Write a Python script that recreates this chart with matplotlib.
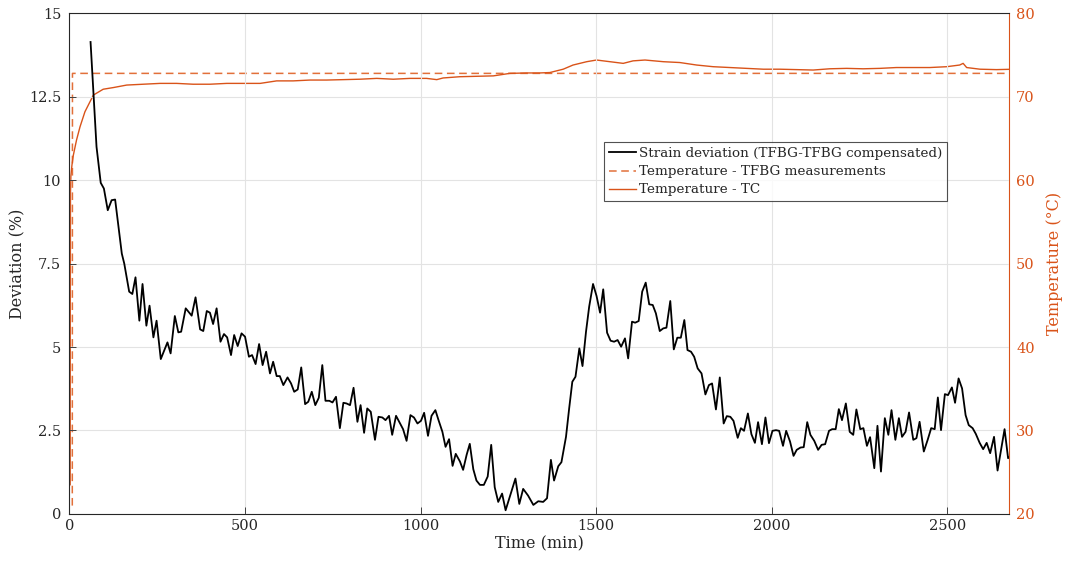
import matplotlib
matplotlib.use("Agg")
import matplotlib.pyplot as plt

# ---------------- data ----------------
strain_t = [60, 77, 89, 98, 109, 120, 130, 149, 156, 170, 179, 188, 199, 208, 219, 228, 239, 248, 260,
            279, 288, 300, 310, 318, 331, 348, 359, 372, 381, 391, 400, 409, 419, 430, 440, 449, 460,
            469, 479, 490, 500, 511, 520, 530, 540, 550, 560, 571, 580,
            590, 599, 609, 621, 631, 640, 650, 660, 671, 680, 690, 700, 710, 720, 729, 740, 749, 759,
            770, 780, 789, 799, 809, 820, 829, 839, 848, 858, 870, 880, 891, 900, 910, 919, 930, 939,
            950, 960, 971, 981, 991, 1001, 1010, 1021, 1031, 1042, 1051, 1062, 1071, 1081, 1091, 1100,
            1112, 1121, 1131, 1140, 1150, 1159, 1169, 1180, 1191, 1201, 1211, 1221, 1232, 1242, 1254,
            1270, 1281, 1292, 1306, 1321, 1335, 1349, 1360, 1371, 1380, 1392,
            1401, 1414, 1423, 1432, 1441, 1452, 1461, 1471, 1480, 1491, 1501, 1511, 1520, 1531, 1541,
            1551, 1561, 1571, 1582, 1591, 1602, 1611, 1621, 1631, 1641, 1651, 1661, 1670, 1681, 1691,
            1700, 1711, 1721, 1731, 1741, 1751, 1760, 1770, 1779, 1789, 1800, 1811, 1821, 1830, 1841,
            1852, 1863, 1872, 1882, 1891, 1903, 1912, 1921, 1932, 1942, 1952, 1961, 1972, 1982, 1992,
            2002, 2012, 2021, 2032, 2041, 2052, 2062, 2071, 2082, 2091, 2101, 2110, 2121, 2132, 2142,
            2152, 2163, 2172, 2182, 2191, 2200, 2211, 2222, 2232, 2241, 2252, 2261, 2271, 2280, 2292,
            2301, 2311, 2322, 2332, 2341, 2352, 2362, 2371, 2381, 2391, 2403, 2412, 2421, 2433, 2444,
            2454, 2464, 2473, 2482, 2493, 2502, 2513, 2522, 2532, 2542, 2552, 2561, 2572, 2581, 2592,
            2602, 2612, 2622, 2633, 2643, 2653, 2663, 2673, 2678, 2685]
strain_dev = [14.14, 11.0, 9.92, 9.75, 9.10, 9.40, 9.42, 7.80, 7.5, 6.66, 6.59, 7.09, 5.79, 6.89, 5.64,
              6.24, 5.29, 5.79, 4.64, 5.14, 4.81, 5.93, 5.44, 5.46, 6.16, 5.94, 6.49, 5.53, 5.48, 6.08,
              6.03, 5.69, 6.16, 5.16, 5.39, 5.29, 4.76, 5.36, 5.03, 5.41, 5.31, 4.71, 4.76, 4.49, 5.09,
              4.46, 4.86, 4.21, 4.56,
              4.13, 4.13, 3.86, 4.09, 3.91, 3.66, 3.73, 4.39, 3.29, 3.36, 3.66, 3.26, 3.48, 4.46, 3.39,
              3.39, 3.34, 3.51, 2.57, 3.33, 3.31, 3.26, 3.78, 2.76, 3.26, 2.43, 3.16, 3.06, 2.22, 2.91,
              2.89, 2.81, 2.94, 2.37, 2.94, 2.76, 2.54, 2.19, 2.96, 2.89, 2.71, 2.79, 3.03, 2.34, 2.94,
              3.11, 2.81, 2.46, 2.01, 2.24, 1.44, 1.80, 1.57, 1.32, 1.77, 2.10, 1.34, 1.00, 0.87, 0.87,
              1.12, 2.07, 0.80, 0.36, 0.61, 0.11, 0.52, 1.06, 0.30, 0.75, 0.55, 0.27, 0.38, 0.36, 0.47,
              1.62, 1.00, 1.43,
              1.55, 2.31, 3.16, 3.96, 4.11, 4.96, 4.43, 5.46, 6.21, 6.89, 6.53, 6.03, 6.73, 5.43, 5.19,
              5.16, 5.21, 5.01, 5.26, 4.66, 5.76, 5.73, 5.78, 6.66, 6.93, 6.28, 6.26, 6.01, 5.48, 5.56,
              5.58, 6.38, 4.93, 5.28, 5.28, 5.81, 4.91, 4.86, 4.71, 4.36, 4.21, 3.58, 3.86, 3.91, 3.13,
              4.09, 2.71, 2.93, 2.91, 2.79, 2.28, 2.57, 2.49, 3.01, 2.39, 2.13, 2.75, 2.09, 2.89, 2.12,
              2.49, 2.51, 2.49, 2.04, 2.49, 2.17, 1.74, 1.92, 1.99, 2.00, 2.75, 2.37, 2.19, 1.92, 2.07,
              2.09, 2.49, 2.54, 2.54, 3.14, 2.81, 3.31, 2.46, 2.37, 3.13, 2.54, 2.57, 2.04, 2.30, 1.37,
              2.64, 1.27, 2.87, 2.37, 3.11, 2.22, 2.87, 2.31, 2.46, 3.04, 2.22, 2.27, 2.76, 1.87, 2.22,
              2.57, 2.54, 3.49, 2.51, 3.59, 3.56, 3.79, 3.33, 4.06, 3.76, 2.96, 2.66, 2.57, 2.40, 2.13,
              1.94, 2.13, 1.82, 2.31, 1.30, 1.92, 2.54, 1.67, 1.72, 2.2]

tfbg_t = [8, 8.5, 2690]
tfbg_temp = [21.0, 72.8, 72.8]

tc_t = [2.0, 2.3, 2.8, 4, 7, 11, 20, 30, 44, 68, 96, 125, 163, 210, 258, 305, 352, 400, 448, 495, 543,
        590, 637, 685, 732, 780, 827, 875, 922, 970, 1017, 1046, 1064, 1112, 1159, 1207, 1254, 1302,
        1339, 1368, 1406, 1434, 1473, 1501, 1539, 1577, 1605, 1639, 1691, 1738, 1786, 1833, 1881,
        1928, 1976, 2023, 2071, 2118, 2165, 2213, 2260, 2308, 2355, 2402, 2450, 2498, 2535, 2545,
        2555, 2593, 2640, 2690]
tc_temp = [23.5, 45.0, 58.5, 60.5, 61.8, 63.0, 64.8, 66.4, 68.2, 70.2, 70.9, 71.1, 71.4, 71.5, 71.6,
           71.6, 71.5, 71.5, 71.6, 71.6, 71.6, 71.9, 71.9, 72.0, 72.0, 72.05, 72.1, 72.2, 72.1, 72.2,
           72.2, 72.05, 72.25, 72.4, 72.45, 72.5, 72.8, 72.85, 72.85, 72.9, 73.3, 73.8, 74.2, 74.4,
           74.2, 74.0, 74.3, 74.4, 74.2, 74.1, 73.8, 73.6, 73.5, 73.4, 73.3, 73.3, 73.25, 73.2, 73.35,
           73.4, 73.35, 73.4, 73.5, 73.5, 73.5, 73.6, 73.8, 74.0, 73.5, 73.3, 73.25, 73.3]

x_ticks = [0, 500, 1000, 1500, 2000, 2500]
y_ticks = [0, 2.5, 5, 7.5, 10, 12.5, 15]
y_tick_labels = ["0", "2.5", "5", "7.5", "10", "12.5", "15"]
t_ticks = [20, 30, 40, 50, 60, 70, 80]

labels = ["Strain deviation (TFBG-TFBG compensated)",
          "Temperature - TFBG measurements",
          "Temperature - TC"]

# ---------------- style ----------------
ORANGE = "#D95319"
ORANGE_D = "#E2703A"
plt.rcParams["font.family"] = ["DejaVu Serif"]

fig = plt.figure(figsize=(10.69, 5.66), dpi=100)
ax = fig.add_axes([0.065, 0.092, 0.879, 0.8845])
ax2 = ax.twinx()

ax.set_zorder(2)
ax.patch.set_visible(False)

l1, = ax.plot(strain_t, strain_dev, color="black", lw=1.3, label=labels[0])
l2, = ax2.plot(tfbg_t, tfbg_temp, color=ORANGE_D, lw=1.1, ls=(0, (5, 3)), label=labels[1])
l3, = ax2.plot(tc_t, tc_temp, color=ORANGE, lw=1.0, label=labels[2])

ax.set_xlim(0, 2676)
ax.set_ylim(0, 15)
ax2.set_ylim(20, 80)
ax.set_xticks(x_ticks)
ax.set_yticks(y_ticks)
ax.set_yticklabels(y_tick_labels)
ax2.set_yticks(t_ticks)

ax2.grid(False)
ax.grid(True, color="#e3e3e3", lw=0.8)
ax.set_axisbelow(True)

fs = 10.5
ax.tick_params(axis="both", direction="in", length=5, labelsize=fs, colors="#262626", width=0.6)
ax.tick_params(axis="y", pad=6)
ax2.tick_params(axis="y", direction="in", length=5, labelsize=fs, colors=ORANGE, width=0.6, pad=5)
for s in ["left", "bottom", "top"]:
    ax.spines[s].set_color("#262626")
    ax.spines[s].set_linewidth(0.8)
ax.spines["right"].set_visible(False)
ax2.spines["right"].set_color(ORANGE)
ax2.spines["right"].set_linewidth(0.8)
for s in ["left", "bottom", "top"]:
    ax2.spines[s].set_visible(False)

ax.set_xlabel("Time (min)", fontsize=11.5, color="#262626", labelpad=2)
ax.set_ylabel("Deviation (%)", fontsize=11.5, color="#262626", labelpad=2)
ax2.set_ylabel("Temperature (°C)", fontsize=11.5, color=ORANGE, labelpad=8)

leg = ax.legend(handles=[l1, l2, l3], loc="upper left", bbox_to_anchor=(0.569, 0.742),
                fontsize=9.7, frameon=True, fancybox=False, handlelength=2.0, handletextpad=0.2,
                borderpad=0.35, labelspacing=0.38, borderaxespad=0)
leg.get_frame().set_edgecolor("#262626")
leg.get_frame().set_linewidth(0.8)
for t in leg.get_texts():
    t.set_color("#262626")

fig.savefig("out.png", dpi=100)
